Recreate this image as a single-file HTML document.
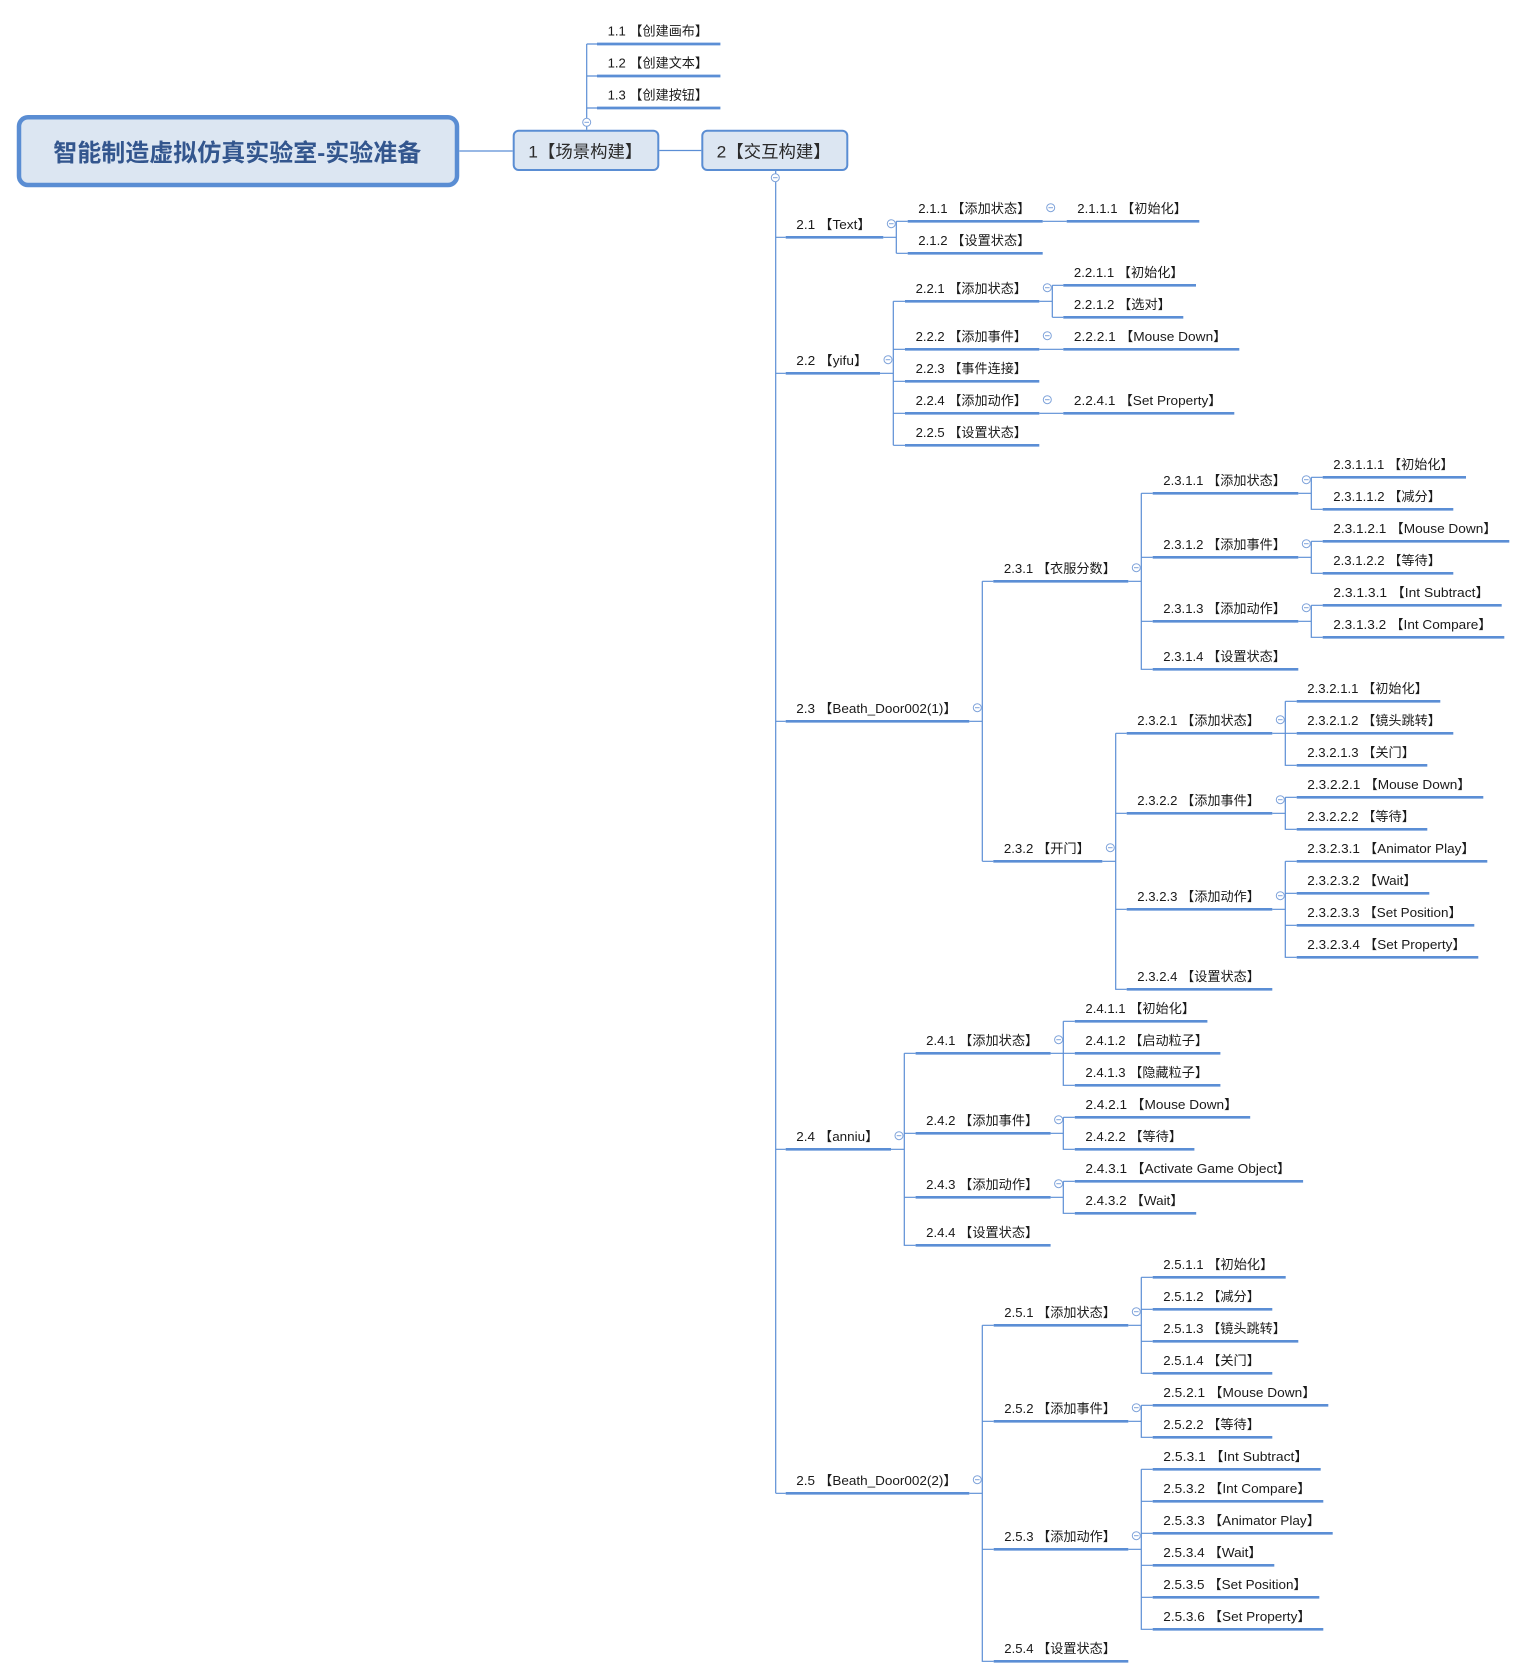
<!DOCTYPE html>
<html><head><meta charset="utf-8"><style>
html,body{margin:0;padding:0;background:#fff;}
svg{display:block;}
text{font-family:"Liberation Sans","Noto Sans CJK SC",sans-serif;font-size:13px;fill:#1a1a1a;}
.u{stroke:#5b8ed5;stroke-width:2.7;fill:none;}
.t{stroke:#5b8ed5;stroke-width:1.2;fill:none;}
.c circle{fill:#fff;stroke:#7fa3da;stroke-width:1;}
.c path{stroke:#7fa3da;stroke-width:1;}
</style></head><body>
<svg width="1527" height="1678" viewBox="0 0 1527 1678" xmlns="http://www.w3.org/2000/svg">
<!-- connectors -->
<path class="t" d="M459.3,151 H512.7 M659.3,150.5 H701.3
M586.7,129.7 V44 M586.7,44 H597 M586.7,76 H597 M586.7,108 H597
M775.7,171 V1493.3 M775.7,237.3 H785.7 M775.7,373.3 H785.7 M775.7,721.3 H785.7 M775.7,1149.3 H785.7 M775.7,1493.3 H785.7
M883.3,237.3 H896.3 M896.3,221.3 V253.3 M896.3,221.3 H907.7 M896.3,253.3 H907.7
M1042.7,221.3 H1066.7
M880,373.3 H893.3 M893.3,301.3 V445.3 M893.3,301.3 H905 M893.3,349.3 H905 M893.3,381.3 H905 M893.3,413.3 H905 M893.3,445.3 H905
M1039.3,301.3 H1052.3 M1052.3,285.3 V317.3 M1052.3,285.3 H1063.3 M1052.3,317.3 H1063.3
M1039.3,349.3 H1063.3 M1039.3,413.3 H1063.3
M969.3,721.3 H982.3 M982.3,581.3 V861.3 M982.3,581.3 H993.3 M982.3,861.3 H993.3
M1128.3,581.3 H1141.3 M1141.3,493.3 V669.3 H1152.7 M1141.3,493.3 H1152.7 M1141.3,557.3 H1152.7 M1141.3,621.3 H1152.7
M1298.3,493.3 H1311.3 M1311.3,477.3 V509.3 H1322.7 M1311.3,477.3 H1322.7
M1298.3,557.3 H1311.3 M1311.3,541.3 V573.3 H1322.7 M1311.3,541.3 H1322.7
M1298.3,621.3 H1311.3 M1311.3,605.3 V637.3 H1322.7 M1311.3,605.3 H1322.7
M1102.3,861.3 H1115.7 M1115.7,733.3 V989.3 H1126.7 M1115.7,733.3 H1126.7 M1115.7,813.3 H1126.7 M1115.7,909.3 H1126.7
M1272.3,733.3 H1296.7 M1285.3,701.3 V765.3 H1296.7 M1285.3,701.3 H1296.7
M1272.3,813.3 H1285.3 M1285.3,797.3 V829.3 H1296.7 M1285.3,797.3 H1296.7
M1272.3,909.3 H1285.3 M1285.3,861.3 V957.3 H1296.7 M1285.3,861.3 H1296.7 M1285.3,893.3 H1296.7 M1285.3,925.3 H1296.7
M891,1149.3 H904.3 M904.3,1053.3 V1245.3 H915.6 M904.3,1053.3 H915.6 M904.3,1133.3 H915.6 M904.3,1197.3 H915.6
M1050.6,1053.3 H1074.8 M1063.3,1021.3 V1085.3 H1074.8 M1063.3,1021.3 H1074.8
M1050.6,1133.3 H1063.3 M1063.3,1117.3 V1149.3 H1074.8 M1063.3,1117.3 H1074.8
M1050.6,1197.3 H1063.3 M1063.3,1181.3 V1213.3 H1074.8 M1063.3,1181.3 H1074.8
M969.3,1493.3 H982.3 M982.3,1325.3 V1661.3 H993.7 M982.3,1325.3 H993.7 M982.3,1421.3 H993.7 M982.3,1549.3 H993.7
M1128.3,1325.3 H1141.3 M1141.3,1277.3 V1373.3 H1152.7 M1141.3,1277.3 H1152.7 M1141.3,1309.3 H1152.7 M1141.3,1341.3 H1152.7
M1128.3,1421.3 H1141.3 M1141.3,1405.3 V1437.3 H1152.7 M1141.3,1405.3 H1152.7
M1128.3,1549.3 H1141.3 M1141.3,1469.3 V1629.3 H1152.7 M1141.3,1469.3 H1152.7 M1141.3,1501.3 H1152.7 M1141.3,1533.3 H1152.7 M1141.3,1565.3 H1152.7 M1141.3,1597.3 H1152.7"/>
<!-- underlines -->
<path class="u" d="M597,44 H720.4 M597,76 H720.4 M597,108 H720.4
M785.7,237.3 H883.3 M785.7,373.3 H880 M785.7,721.3 H969.3 M785.7,1149.3 H891 M785.7,1493.3 H969.3
M907.7,221.3 H1042.7 M907.7,253.3 H1042.7 M1066.7,221.3 H1199.3
M905,301.3 H1039.3 M905,349.3 H1039.3 M905,381.3 H1039.3 M905,413.3 H1039.3 M905,445.3 H1039.3
M1063.3,285.3 H1196 M1063.3,317.3 H1183.3 M1063.3,349.3 H1239.3 M1063.3,413.3 H1234.3
M993.3,581.3 H1128.3 M993.3,861.3 H1102.3
M1152.7,493.3 H1298.3 M1152.7,557.3 H1298.3 M1152.7,621.3 H1298.3 M1152.7,669.3 H1298.3
M1322.7,477.3 H1466 M1322.7,509.3 H1453.3 M1322.7,541.3 H1509.3 M1322.7,573.3 H1453.3 M1322.7,605.3 H1501.7 M1322.7,637.3 H1504.3
M1126.7,733.3 H1272.3 M1126.7,813.3 H1272.3 M1126.7,909.3 H1272.3 M1126.7,989.3 H1272.3
M1296.7,701.3 H1440.3 M1296.7,733.3 H1453.3 M1296.7,765.3 H1427.3 M1296.7,797.3 H1483.3 M1296.7,829.3 H1427.3
M1296.7,861.3 H1487.3 M1296.7,893.3 H1429.3 M1296.7,925.3 H1474.3 M1296.7,957.3 H1478.3
M915.6,1053.3 H1050.6 M915.6,1133.3 H1050.6 M915.6,1197.3 H1050.6 M915.6,1245.3 H1050.6
M1074.8,1021.3 H1207.4 M1074.8,1053.3 H1220.4 M1074.8,1085.3 H1220.4 M1074.8,1117.3 H1250.2 M1074.8,1149.3 H1194.4 M1074.8,1181.3 H1303.1 M1074.8,1213.3 H1196.2
M993.7,1325.3 H1128.3 M993.7,1421.3 H1128.3 M993.7,1549.3 H1128.3 M993.7,1661.3 H1128.3
M1152.7,1277.3 H1285.7 M1152.7,1309.3 H1272.3 M1152.7,1341.3 H1298.3 M1152.7,1373.3 H1272.3
M1152.7,1405.3 H1328.3 M1152.7,1437.3 H1272.3
M1152.7,1469.3 H1320.7 M1152.7,1501.3 H1323.3 M1152.7,1533.3 H1332.7 M1152.7,1565.3 H1274.3 M1152.7,1597.3 H1319.3 M1152.7,1629.3 H1323.3"/>
<!-- boxes -->
<rect x="19" y="117.3" width="438" height="67.7" rx="9" ry="9" fill="#dce6f2" stroke="#5a8dd3" stroke-width="4.5"/>
<text x="53.3" y="161" textLength="368" lengthAdjust="spacingAndGlyphs" style="font-size:24px;font-weight:bold;fill:#33568e;">智能制造虚拟仿真实验室-实验准备</text>
<rect x="513.7" y="130.7" width="144.6" height="39.3" rx="5" ry="5" fill="#dce6f2" stroke="#5a8dd3" stroke-width="2"/>
<text x="528.3" y="157.3" textLength="114" lengthAdjust="spacingAndGlyphs" style="font-size:17px;fill:#2a2a2a;">1【场景构建】</text>
<rect x="702.3" y="130.7" width="145" height="39.3" rx="5" ry="5" fill="#dce6f2" stroke="#5a8dd3" stroke-width="2"/>
<text x="716.7" y="157.3" textLength="114" lengthAdjust="spacingAndGlyphs" style="font-size:17px;fill:#2a2a2a;">2【交互构建】</text>
<!-- labels -->
<g transform="translate(0,-1.5)">
<text x="607.6" y="37" textLength="100.4" lengthAdjust="spacingAndGlyphs">1.1 【创建画布】</text>
<text x="607.6" y="69" textLength="100.4" lengthAdjust="spacingAndGlyphs">1.2 【创建文本】</text>
<text x="607.6" y="101" textLength="100.4" lengthAdjust="spacingAndGlyphs">1.3 【创建按钮】</text>

<text x="796.3" y="230.3" textLength="74.6" lengthAdjust="spacingAndGlyphs">2.1 【Text】</text>
<text x="796.3" y="366.3" textLength="71.3" lengthAdjust="spacingAndGlyphs">2.2 【yifu】</text>
<text x="796.3" y="714.3" textLength="160.6" lengthAdjust="spacingAndGlyphs">2.3 【Beath_Door002(1)】</text>
<text x="796.3" y="1142.3" textLength="82.3" lengthAdjust="spacingAndGlyphs">2.4 【anniu】</text>
<text x="796.3" y="1486.3" textLength="160.6" lengthAdjust="spacingAndGlyphs">2.5 【Beath_Door002(2)】</text>

<text x="918.3" y="214.3" textLength="112" lengthAdjust="spacingAndGlyphs">2.1.1 【添加状态】</text>
<text x="918.3" y="246.3" textLength="112" lengthAdjust="spacingAndGlyphs">2.1.2 【设置状态】</text>
<text x="1077.3" y="214.3" textLength="109.6" lengthAdjust="spacingAndGlyphs">2.1.1.1 【初始化】</text>

<text x="915.6" y="294.3" textLength="111.3" lengthAdjust="spacingAndGlyphs">2.2.1 【添加状态】</text>
<text x="915.6" y="342.3" textLength="111.3" lengthAdjust="spacingAndGlyphs">2.2.2 【添加事件】</text>
<text x="915.6" y="374.3" textLength="111.3" lengthAdjust="spacingAndGlyphs">2.2.3 【事件连接】</text>
<text x="915.6" y="406.3" textLength="111.3" lengthAdjust="spacingAndGlyphs">2.2.4 【添加动作】</text>
<text x="915.6" y="438.3" textLength="111.3" lengthAdjust="spacingAndGlyphs">2.2.5 【设置状态】</text>
<text x="1073.9" y="278.3" textLength="109.7" lengthAdjust="spacingAndGlyphs">2.2.1.1 【初始化】</text>
<text x="1073.9" y="310.3" textLength="97" lengthAdjust="spacingAndGlyphs">2.2.1.2 【选对】</text>
<text x="1073.9" y="342.3" textLength="153" lengthAdjust="spacingAndGlyphs">2.2.2.1 【Mouse Down】</text>
<text x="1073.9" y="406.3" textLength="148" lengthAdjust="spacingAndGlyphs">2.2.4.1 【Set Property】</text>

<text x="1003.9" y="574.3" textLength="112" lengthAdjust="spacingAndGlyphs">2.3.1 【衣服分数】</text>
<text x="1003.9" y="854.3" textLength="86" lengthAdjust="spacingAndGlyphs">2.3.2 【开门】</text>
<text x="1163.3" y="486.3" textLength="122.6" lengthAdjust="spacingAndGlyphs">2.3.1.1 【添加状态】</text>
<text x="1163.3" y="550.3" textLength="122.6" lengthAdjust="spacingAndGlyphs">2.3.1.2 【添加事件】</text>
<text x="1163.3" y="614.3" textLength="122.6" lengthAdjust="spacingAndGlyphs">2.3.1.3 【添加动作】</text>
<text x="1163.3" y="662.3" textLength="122.6" lengthAdjust="spacingAndGlyphs">2.3.1.4 【设置状态】</text>
<text x="1333.3" y="470.3" textLength="120.3" lengthAdjust="spacingAndGlyphs">2.3.1.1.1 【初始化】</text>
<text x="1333.3" y="502.3" textLength="107.6" lengthAdjust="spacingAndGlyphs">2.3.1.1.2 【减分】</text>
<text x="1333.3" y="534.3" textLength="163.6" lengthAdjust="spacingAndGlyphs">2.3.1.2.1 【Mouse Down】</text>
<text x="1333.3" y="566.3" textLength="107.6" lengthAdjust="spacingAndGlyphs">2.3.1.2.2 【等待】</text>
<text x="1333.3" y="598.3" textLength="156" lengthAdjust="spacingAndGlyphs">2.3.1.3.1 【Int Subtract】</text>
<text x="1333.3" y="630.3" textLength="158.6" lengthAdjust="spacingAndGlyphs">2.3.1.3.2 【Int Compare】</text>

<text x="1137.3" y="726.3" textLength="122.6" lengthAdjust="spacingAndGlyphs">2.3.2.1 【添加状态】</text>
<text x="1137.3" y="806.3" textLength="122.6" lengthAdjust="spacingAndGlyphs">2.3.2.2 【添加事件】</text>
<text x="1137.3" y="902.3" textLength="122.6" lengthAdjust="spacingAndGlyphs">2.3.2.3 【添加动作】</text>
<text x="1137.3" y="982.3" textLength="122.6" lengthAdjust="spacingAndGlyphs">2.3.2.4 【设置状态】</text>
<text x="1307.3" y="694.3" textLength="120.6" lengthAdjust="spacingAndGlyphs">2.3.2.1.1 【初始化】</text>
<text x="1307.3" y="726.3" textLength="133.6" lengthAdjust="spacingAndGlyphs">2.3.2.1.2 【镜头跳转】</text>
<text x="1307.3" y="758.3" textLength="107.6" lengthAdjust="spacingAndGlyphs">2.3.2.1.3 【关门】</text>
<text x="1307.3" y="790.3" textLength="163.6" lengthAdjust="spacingAndGlyphs">2.3.2.2.1 【Mouse Down】</text>
<text x="1307.3" y="822.3" textLength="107.6" lengthAdjust="spacingAndGlyphs">2.3.2.2.2 【等待】</text>
<text x="1307.3" y="854.3" textLength="167.6" lengthAdjust="spacingAndGlyphs">2.3.2.3.1 【Animator Play】</text>
<text x="1307.3" y="886.3" textLength="109.6" lengthAdjust="spacingAndGlyphs">2.3.2.3.2 【Wait】</text>
<text x="1307.3" y="918.3" textLength="154.6" lengthAdjust="spacingAndGlyphs">2.3.2.3.3 【Set Position】</text>
<text x="1307.3" y="950.3" textLength="158.6" lengthAdjust="spacingAndGlyphs">2.3.2.3.4 【Set Property】</text>

<text x="926.2" y="1046.3" textLength="112" lengthAdjust="spacingAndGlyphs">2.4.1 【添加状态】</text>
<text x="926.2" y="1126.3" textLength="112" lengthAdjust="spacingAndGlyphs">2.4.2 【添加事件】</text>
<text x="926.2" y="1190.3" textLength="112" lengthAdjust="spacingAndGlyphs">2.4.3 【添加动作】</text>
<text x="926.2" y="1238.3" textLength="112" lengthAdjust="spacingAndGlyphs">2.4.4 【设置状态】</text>
<text x="1085.4" y="1014.3" textLength="109.6" lengthAdjust="spacingAndGlyphs">2.4.1.1 【初始化】</text>
<text x="1085.4" y="1046.3" textLength="122.6" lengthAdjust="spacingAndGlyphs">2.4.1.2 【启动粒子】</text>
<text x="1085.4" y="1078.3" textLength="122.6" lengthAdjust="spacingAndGlyphs">2.4.1.3 【隐藏粒子】</text>
<text x="1085.4" y="1110.3" textLength="152.4" lengthAdjust="spacingAndGlyphs">2.4.2.1 【Mouse Down】</text>
<text x="1085.4" y="1142.3" textLength="96.6" lengthAdjust="spacingAndGlyphs">2.4.2.2 【等待】</text>
<text x="1085.4" y="1174.3" textLength="205.3" lengthAdjust="spacingAndGlyphs">2.4.3.1 【Activate Game Object】</text>
<text x="1085.4" y="1206.3" textLength="98.4" lengthAdjust="spacingAndGlyphs">2.4.3.2 【Wait】</text>

<text x="1004.3" y="1318.3" textLength="111.6" lengthAdjust="spacingAndGlyphs">2.5.1 【添加状态】</text>
<text x="1004.3" y="1414.3" textLength="111.6" lengthAdjust="spacingAndGlyphs">2.5.2 【添加事件】</text>
<text x="1004.3" y="1542.3" textLength="111.6" lengthAdjust="spacingAndGlyphs">2.5.3 【添加动作】</text>
<text x="1004.3" y="1654.3" textLength="111.6" lengthAdjust="spacingAndGlyphs">2.5.4 【设置状态】</text>
<text x="1163.3" y="1270.3" textLength="110" lengthAdjust="spacingAndGlyphs">2.5.1.1 【初始化】</text>
<text x="1163.3" y="1302.3" textLength="96.6" lengthAdjust="spacingAndGlyphs">2.5.1.2 【减分】</text>
<text x="1163.3" y="1334.3" textLength="122.6" lengthAdjust="spacingAndGlyphs">2.5.1.3 【镜头跳转】</text>
<text x="1163.3" y="1366.3" textLength="96.6" lengthAdjust="spacingAndGlyphs">2.5.1.4 【关门】</text>
<text x="1163.3" y="1398.3" textLength="152.6" lengthAdjust="spacingAndGlyphs">2.5.2.1 【Mouse Down】</text>
<text x="1163.3" y="1430.3" textLength="96.6" lengthAdjust="spacingAndGlyphs">2.5.2.2 【等待】</text>
<text x="1163.3" y="1462.3" textLength="145" lengthAdjust="spacingAndGlyphs">2.5.3.1 【Int Subtract】</text>
<text x="1163.3" y="1494.3" textLength="147.6" lengthAdjust="spacingAndGlyphs">2.5.3.2 【Int Compare】</text>
<text x="1163.3" y="1526.3" textLength="157" lengthAdjust="spacingAndGlyphs">2.5.3.3 【Animator Play】</text>
<text x="1163.3" y="1558.3" textLength="98.6" lengthAdjust="spacingAndGlyphs">2.5.3.4 【Wait】</text>
<text x="1163.3" y="1590.3" textLength="143.6" lengthAdjust="spacingAndGlyphs">2.5.3.5 【Set Position】</text>
<text x="1163.3" y="1622.3" textLength="147.6" lengthAdjust="spacingAndGlyphs">2.5.3.6 【Set Property】</text>
</g>
<!-- collapse markers -->
<g class="c">
<circle cx="586.7" cy="122.3" r="4"/><path d="M584.4,122.3 H589"/>
<circle cx="775.3" cy="177.7" r="4"/><path d="M773,177.7 H777.6"/>
<circle cx="891.3" cy="223.7" r="4"/><path d="M889,223.7 H893.6"/>
<circle cx="1050.7" cy="207.7" r="4"/><path d="M1048.4,207.7 H1053"/>
<circle cx="888" cy="359.7" r="4"/><path d="M885.7,359.7 H890.3"/>
<circle cx="1047.3" cy="287.7" r="4"/><path d="M1045,287.7 H1049.6"/>
<circle cx="1047.3" cy="335.7" r="4"/><path d="M1045,335.7 H1049.6"/>
<circle cx="1047.3" cy="399.7" r="4"/><path d="M1045,399.7 H1049.6"/>
<circle cx="977.3" cy="707.7" r="4"/><path d="M975,707.7 H979.6"/>
<circle cx="1136.3" cy="567.7" r="4"/><path d="M1134,567.7 H1138.6"/>
<circle cx="1306.3" cy="479.7" r="4"/><path d="M1304,479.7 H1308.6"/>
<circle cx="1306.3" cy="543.7" r="4"/><path d="M1304,543.7 H1308.6"/>
<circle cx="1306.3" cy="607.7" r="4"/><path d="M1304,607.7 H1308.6"/>
<circle cx="1110.3" cy="847.7" r="4"/><path d="M1108,847.7 H1112.6"/>
<circle cx="1280.3" cy="719.7" r="4"/><path d="M1278,719.7 H1282.6"/>
<circle cx="1280.3" cy="799.7" r="4"/><path d="M1278,799.7 H1282.6"/>
<circle cx="1280.3" cy="895.7" r="4"/><path d="M1278,895.7 H1282.6"/>
<circle cx="899" cy="1135.7" r="4"/><path d="M896.7,1135.7 H901.3"/>
<circle cx="1058.6" cy="1039.7" r="4"/><path d="M1056.3,1039.7 H1060.9"/>
<circle cx="1058.6" cy="1119.7" r="4"/><path d="M1056.3,1119.7 H1060.9"/>
<circle cx="1058.6" cy="1183.7" r="4"/><path d="M1056.3,1183.7 H1060.9"/>
<circle cx="977.3" cy="1479.7" r="4"/><path d="M975,1479.7 H979.6"/>
<circle cx="1136.3" cy="1311.7" r="4"/><path d="M1134,1311.7 H1138.6"/>
<circle cx="1136.3" cy="1407.7" r="4"/><path d="M1134,1407.7 H1138.6"/>
<circle cx="1136.3" cy="1535.7" r="4"/><path d="M1134,1535.7 H1138.6"/>
</g>
</svg>
</body></html>
